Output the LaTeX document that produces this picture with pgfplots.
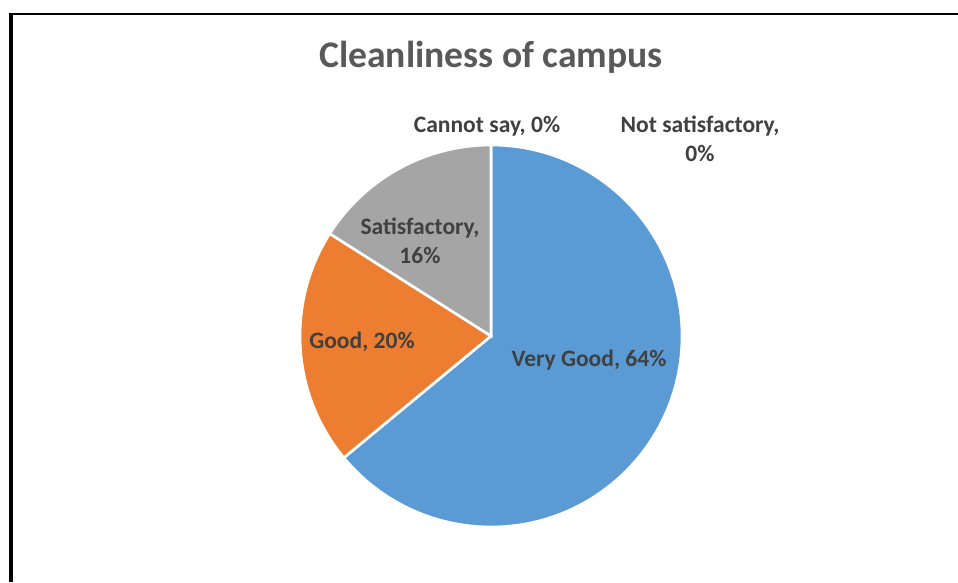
\documentclass[border=0pt]{standalone}
\usepackage{pgfplots}
\pgfplotsset{compat=1.18}
\usepackage{fontspec}
\setmainfont{Carlito}
\definecolor{cblue}{HTML}{5B9BD5}
\definecolor{corange}{HTML}{ED7D31}
\definecolor{cgray}{HTML}{A5A5A5}
\definecolor{ctitle}{HTML}{595959}
\definecolor{clabel}{HTML}{404040}
% values in percent
\def\vVeryGood{64}
\def\vGood{20}
\def\vSatisfactory{16}
\def\vCannot{0}
\def\vNotSat{0}
\begin{document}
\begin{tikzpicture}
\begin{axis}[
  scale only axis, width=9.58cm, height=5.82cm,
  xmin=0, xmax=958, ymin=0, ymax=582,
  hide axis, clip=false,
]
% canvas extent
\path[use as bounding box] (axis cs:0,0) rectangle (axis cs:958,582);
% frame
\draw[black, line width=0.6pt] (axis cs:9,568) -- (axis cs:958,568);
\draw[black, line width=1.1pt] (axis cs:11,569) -- (axis cs:11,0);
% pie: start at 90 deg, clockwise
\fill[cblue, draw=white, line width=0.75pt] (axis cs:491,246) -- ++(90:1.91cm)
  arc[start angle=90, end angle={90-3.6*\vVeryGood}, radius=1.91cm] -- cycle;
\fill[corange, draw=white, line width=0.75pt] (axis cs:491,246) -- ++({90-3.6*\vVeryGood}:1.91cm)
  arc[start angle={90-3.6*\vVeryGood}, end angle={90-3.6*(\vVeryGood+\vGood)}, radius=1.91cm] -- cycle;
\fill[cgray, draw=white, line width=0.75pt] (axis cs:491,246) -- ++({90-3.6*(\vVeryGood+\vGood)}:1.91cm)
  arc[start angle={90-3.6*(\vVeryGood+\vGood)}, end angle={90-3.6*(\vVeryGood+\vGood+\vSatisfactory)}, radius=1.91cm] -- cycle;
% title
\node[font=\fontsize{10.7}{13}\selectfont\bfseries, text=ctitle] at (axis cs:491,525) {Cleanliness of campus};
% labels
\begin{scope}[every node/.style={font=\fontsize{6.7}{8.25}\selectfont\bfseries, text=clabel, align=center}]
\node at (axis cs:589,222) {Very Good, \vVeryGood\%};
\node at (axis cs:362,240) {Good, \vGood\%};
\node at (axis cs:420,341) {Satisfactory,\\\vSatisfactory\%};
\node at (axis cs:487,456) {Cannot say, \vCannot\%};
\node at (axis cs:700,443) {Not satisfactory,\\\vNotSat\%};
\end{scope}
\end{axis}
\end{tikzpicture}
\end{document}
